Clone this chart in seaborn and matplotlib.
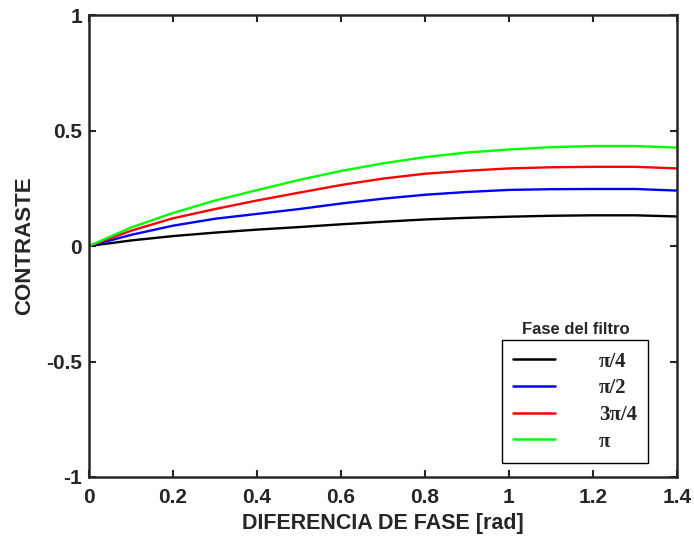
import numpy as np
import pandas as pd
import matplotlib
matplotlib.use("Agg")
import matplotlib.pyplot as plt
import seaborn as sns

# phase difference samples (rad)
fase = [0.0, 0.1, 0.2, 0.3, 0.4, 0.5, 0.6, 0.7, 0.8, 0.9, 1.0, 1.1, 1.2, 1.3, 1.4]

# contrast, one list per filter phase
c_pi4 = [0, 0.024, 0.043, 0.058, 0.071, 0.082, 0.094, 0.105, 0.115, 0.122, 0.127, 0.131, 0.133, 0.133, 0.128]
c_pi2 = [0, 0.048, 0.088, 0.118, 0.139, 0.160, 0.184, 0.205, 0.222, 0.234, 0.243, 0.246, 0.247, 0.247, 0.240]
c_3pi4 = [0, 0.066, 0.120, 0.160, 0.197, 0.231, 0.264, 0.292, 0.313, 0.326, 0.336, 0.341, 0.343, 0.343, 0.336]
c_pi = [0, 0.080, 0.143, 0.197, 0.242, 0.286, 0.325, 0.358, 0.385, 0.405, 0.418, 0.428, 0.433, 0.433, 0.426]

series_names = ["π/4", "π/2", "3π/4", "π"]
colors = ["black", "#0000ff", "#ff0000", "#00ff00"]

xticks = [0, 0.2, 0.4, 0.6, 0.8, 1.0, 1.2, 1.4]
xticklabels = ["0", "0.2", "0.4", "0.6", "0.8", "1", "1.2", "1.4"]
yticks = [-1, -0.5, 0, 0.5, 1]
yticklabels = ["-1", "-0.5", "0", "0.5", "1"]

df = pd.DataFrame({"fase": fase, "π/4": c_pi4, "π/2": c_pi2, "3π/4": c_3pi4, "π": c_pi})
df = df.melt(id_vars="fase", var_name="filtro", value_name="contraste")

sns.set_style("ticks")
plt.rcParams["font.family"] = ["Liberation Sans", "DejaVu Sans"]

fig = plt.figure(figsize=(6.94, 5.38), dpi=100)
ax = fig.add_axes([0.128, 0.1134, 0.8475, 0.8586])

sns.lineplot(data=df, x="fase", y="contraste", hue="filtro", hue_order=series_names,
             palette=colors, linewidth=1.7, ax=ax, legend=False)

ax.set_xlim(0, 1.4)
ax.set_ylim(-1, 1)
ax.set_xticks(xticks)
ax.set_xticklabels(xticklabels)
ax.set_yticks(yticks)
ax.set_yticklabels(yticklabels)
ax.tick_params(direction="in", length=5, width=1.5, top=True, right=True,
               labelsize=15)
ax.tick_params(axis="x", pad=8)
ax.tick_params(axis="y", pad=5)
for lab in ax.get_xticklabels() + ax.get_yticklabels():
    lab.set_fontweight("bold")
for sp in ax.spines.values():
    sp.set_linewidth(1.8)
    sp.set_visible(True)

ax.set_xlabel("DIFERENCIA DE FASE [rad]", fontsize=15.5, fontweight="bold", labelpad=4)
ax.set_ylabel("CONTRASTE", fontsize=16, fontweight="bold", labelpad=8)

handles = [plt.Line2D([], [], color=c, linewidth=1.8) for c in colors]
leg = fig.legend(handles, series_names, loc="lower right",
                 bbox_to_anchor=(0.934, 0.139), bbox_transform=fig.transFigure,
                 borderaxespad=0, fancybox=False, edgecolor="black",
                 framealpha=1, handlelength=2.0, handletextpad=2.1,
                 labelspacing=0.32, borderpad=0.55,
                 prop={"family": "Liberation Serif", "size": 15, "weight": "bold"})
leg.get_frame().set_linewidth(1.0)
fig.text(0.83, 0.388, "Fase del filtro", ha="center", va="center",
         fontsize=12, fontweight="bold")

fig.savefig("out.png", dpi=100)
